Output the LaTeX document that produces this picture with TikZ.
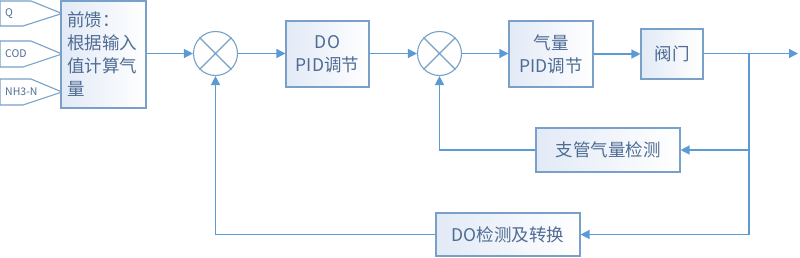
\documentclass[tikz,border=0pt]{standalone}
\usepackage{fontspec}
\setmainfont{Noto Sans CJK SC}
\usetikzlibrary{arrows.meta}
\definecolor{lineblue}{RGB}{91,155,213}
\definecolor{edgeblue}{RGB}{120,160,200}
\definecolor{textblue}{RGB}{78,108,148}
\definecolor{paleblue}{RGB}{226,234,246}

\tikzset{
  block/.style={draw=edgeblue, line width=1.1pt, left color=paleblue, right color=white,
    text=textblue, font=\fontsize{17.5}{23}\selectfont, align=center, inner sep=0pt},
  summer/.style={circle, draw=edgeblue, line width=1.1pt, fill=white, minimum size=44pt, inner sep=0pt},
  arr/.style={draw=lineblue, line width=1.3pt, -{Triangle[length=9pt,width=9pt]}},
  wire/.style={draw=lineblue, line width=1.3pt},
  tag/.style={draw=edgeblue, line width=1.1pt, fill=white},
  taglabel/.style={anchor=west, inner sep=0pt, text=textblue, font=\fontsize{10.5}{12}\selectfont}
}

\begin{document}
\begin{tikzpicture}[x=1pt,y=-1pt]
\useasboundingbox (0,0) rectangle (800,257);
% input tags
\draw[tag] (0,1)--(31,1)--(62,13.5)--(23,26)--(0,26)--cycle;
\draw[tag] (0,41)--(31,41)--(62,54)--(23,67)--(0,67)--cycle;
\draw[tag] (0,79)--(31,79)--(62,92)--(23,105)--(0,105)--cycle;
\node[taglabel] (q) at (5,14) {Q};
\node[taglabel] (cod) at (5,54) {COD};
\node[taglabel] (nh) at (5,92) {NH3-N};
% blocks
\node[block, minimum width=85pt, minimum height=107pt, text width=73pt, align=left] (ff) at (103.5,54.5)
  {前馈：\\根据输入\\值计算气\\量};
\node[summer] (c1) at (215.5,53.5) {};
\node[block, minimum width=83pt, minimum height=66pt] (pid1) at (327.5,54) {DO\\PID调节};
\node[summer] (c2) at (439.5,53.5) {};
\node[block, minimum width=84pt, minimum height=66pt] (pid2) at (551,54) {气量\\PID调节};
\node[block, minimum width=62pt, minimum height=50pt] (valve) at (672,54) {阀门};
\node[block, minimum width=144pt, minimum height=44pt] (gas) at (608,150) {支管气量检测};
\node[block, minimum width=144pt, minimum height=43pt] (do) at (508,234.5) {DO检测及转换};
\coordinate (br) at (749,53.5);
\coordinate (out) at (798,53.5);
% crosses
\foreach \c in {c1,c2}
  \draw[edgeblue, line width=1.1pt] (\c.north west)--(\c.south east) (\c.north east)--(\c.south west);
% forward path
\draw[arr] (ff.east |- c1.west) -- (c1.west);
\draw[arr] (c1.east) -- (pid1.west |- c1.east);
\draw[arr] (pid1.east |- c2.west) -- (c2.west);
\draw[arr] (c2.east) -- (pid2.west |- c2.east);
\draw[arr] (pid2.east |- valve.west) -- (valve.west);
\draw[arr] (valve.east |- out) -- (out);
% feedback paths
\draw[wire] (br) -- (br |- do.east);
\draw[arr] (br |- gas.east) -- (gas.east);
\draw[arr] (br |- do.east) -- (do.east);
\draw[arr] (gas.west) -- (c2 |- gas.west) -- (c2.south);
\draw[arr] (do.west) -- (c1 |- do.west) -- (c1.south);
\end{tikzpicture}
\end{document}
